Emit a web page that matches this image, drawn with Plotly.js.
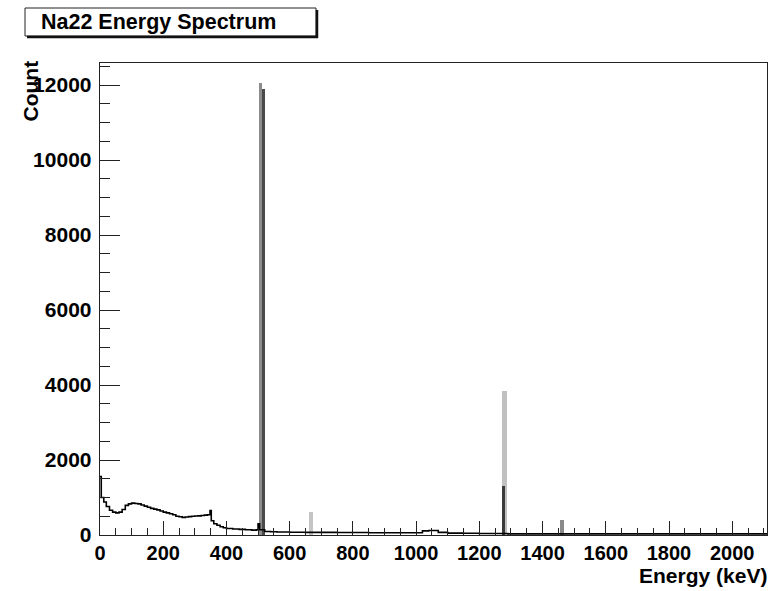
<!DOCTYPE html>
<html>
<head>
<meta charset="utf-8">
<script src="https://cdn.plot.ly/plotly-3.0.1.min.js"></script>
<style>html,body{margin:0;padding:0;background:#fff;}#chart{width:781px;height:591px;}</style>
</head>
<body>
<div id="chart"></div>
<script>
// Continuum: bin left edges (keV) and counts (step histogram)
const energyEdges = [0,4,12,20,30,40,50,60,70,80,90,100,110,120,130,140,150,160,170,180,190,200,210,220,230,240,250,260,270,280,290,300,310,320,330,340,348,352,360,370,380,390,400,420,440,460,480,495,500,505,521,540,560,600,650,700,750,800,850,900,950,1000,1020,1040,1070,1100,1150,1200,1250,1290,1350,1400,1500,1600,1700,1800,1900,2000,2110];
const counts = [1560,1000,880,760,660,610,590,610,680,790,830,850,840,830,800,770,740,710,690,670,640,610,590,565,540,500,485,470,480,490,500,505,510,520,530,540,650,380,300,260,220,195,175,160,150,140,130,140,300,140,95,85,80,75,70,70,65,65,60,60,60,60,110,120,70,50,45,40,40,30,30,30,30,30,30,30,30,30,30];

// Narrow photo-peaks (centre keV, width keV, counts)
const peakCenters = [509, 517.5, 667, 1278.5, 1277.5, 1461];
const peakWidths = [10, 7, 14, 15, 9, 12];
const peakCounts = [12050, 11900, 610, 3850, 1320, 400];

const xTickVals = [0,200,400,600,800,1000,1200,1400,1600,1800,2000];
const yTickVals = [0,2000,4000,6000,8000,10000,12000];

const titleText = 'Na22 Energy Spectrum';
const xTitle = 'Energy (keV)';
const yTitle = 'Count';

// styles
const peakShades = ['#8c8c8c', '#4a4a4a', '#c4c4c4', '#c0c0c0', '#3a3a3a', '#8a8a8a'];
const FONT = 'Liberation Sans, Arial, Helvetica, sans-serif';
const L = 100, R = 767, T = 63, B = 535, W = 781, H = 591;
const px = v => (v - L) / (R - L);
const py = v => (B - v) / (B - T);

const traces = [
  {
    type: 'scatter', mode: 'lines', x: energyEdges, y: counts,
    line: {shape: 'hv', color: '#000', width: 1.6}, hoverinfo: 'skip'
  },
  {
    type: 'bar', x: peakCenters, y: peakCounts, width: peakWidths,
    marker: {color: peakShades, line: {width: 0}}, hoverinfo: 'skip'
  }
];

const layout = {
  width: W, height: H,
  margin: {l: L, r: W - R, t: T, b: H - B, pad: 0},
  paper_bgcolor: '#fff', plot_bgcolor: '#fff',
  showlegend: false, barmode: 'overlay', bargap: 0,
  font: {family: FONT, color: '#000', size: 20, weight: 'bold'},
  xaxis: {
    range: [0, 2110], tickvals: xTickVals, ticktext: xTickVals.map(String),
    ticks: 'inside', ticklen: 14, tickwidth: 1, tickcolor: '#222',
    minor: {dtick: 50, tick0: 0, ticks: 'inside', ticklen: 7, tickwidth: 1, tickcolor: '#222'},
    showline: true, linecolor: '#222', linewidth: 1.3, mirror: true,
    showgrid: false, zeroline: false, ticklabelstandoff: 0,
    tickfont: {family: FONT, size: 20, color: '#000', weight: 'bold'}
  },
  yaxis: {
    range: [0, 12590], tickvals: yTickVals, ticktext: yTickVals.map(String),
    ticks: 'inside', ticklen: 20, tickwidth: 1, tickcolor: '#222',
    minor: {dtick: 500, tick0: 0, ticks: 'inside', ticklen: 10, tickwidth: 1, tickcolor: '#222'},
    showline: true, linecolor: '#222', linewidth: 1.3, mirror: true,
    showgrid: false, zeroline: false, ticklabelstandoff: 3,
    tickfont: {family: FONT, size: 21, color: '#000', weight: 'bold'}
  },
  shapes: [
    {type: 'rect', xref: 'paper', yref: 'paper', x0: px(25), x1: px(316), y0: py(36), y1: py(8),
     line: {color: '#222', width: 1}, fillcolor: '#fff', layer: 'above'},
    {type: 'line', xref: 'paper', yref: 'paper', x0: px(317), x1: px(317), y0: py(38), y1: py(10),
     line: {color: '#111', width: 2.5}},
    {type: 'line', xref: 'paper', yref: 'paper', x0: px(27), x1: px(318), y0: py(37), y1: py(37),
     line: {color: '#111', width: 2.5}}
  ],
  annotations: [
    {text: titleText, xref: 'paper', yref: 'paper', x: px(39), y: py(22),
     xanchor: 'left', yanchor: 'middle', showarrow: false,
     font: {family: FONT, size: 21.5, color: '#000', weight: 'bold'}},
    {text: xTitle, xref: 'paper', yref: 'paper', x: px(769), y: py(575),
     xanchor: 'right', yanchor: 'middle', showarrow: false,
     font: {family: FONT, size: 21, color: '#000', weight: 'bold'}},
    {text: yTitle, xref: 'paper', yref: 'paper', x: px(30), y: py(59),
     xanchor: 'center', yanchor: 'top', showarrow: false, textangle: -90,
     font: {family: FONT, size: 21, color: '#000', weight: 'bold'}}
  ]
};

Plotly.newPlot('chart', traces, layout, {staticPlot: true, displayModeBar: false});
</script>
</body>
</html>
